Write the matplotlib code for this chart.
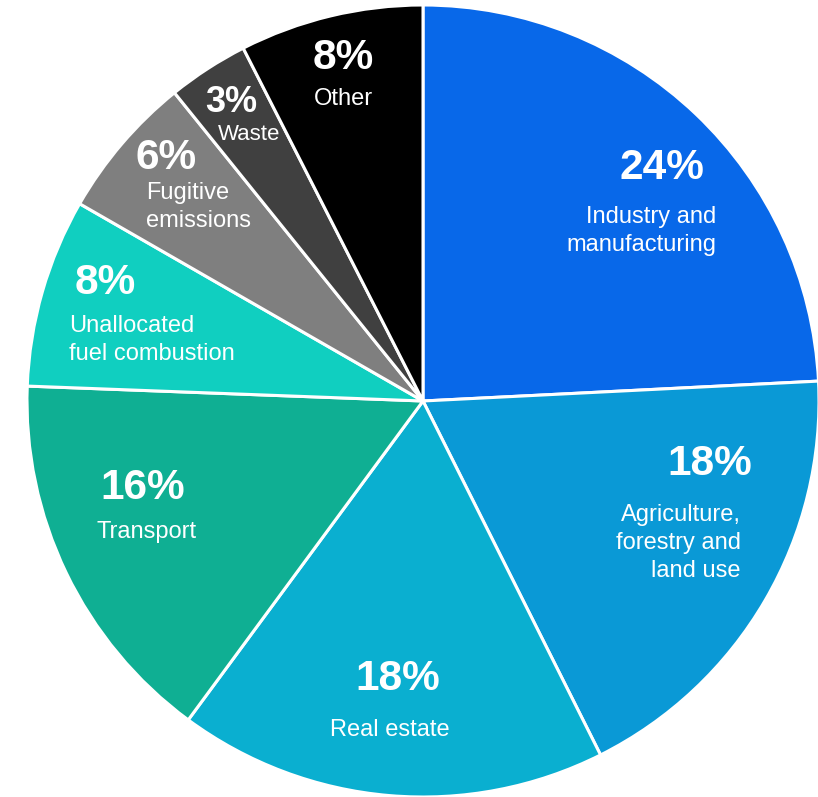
import matplotlib.pyplot as plt

plt.rcParams['font.family'] = ['Liberation Sans', 'DejaVu Sans']

# 数据：各行业排放占比（%），顺时针从正上方开始
sectors = ['Industry and\nmanufacturing', 'Agriculture,\nforestry and\nland use',
           'Real estate', 'Transport', 'Unallocated\nfuel combustion',
           'Fugitive\nemissions', 'Waste', 'Other']
shares = [24.2, 18.4, 17.5, 15.5, 7.7, 5.9, 3.3, 7.5]
pct_labels = ['24%', '18%', '18%', '16%', '8%', '6%', '3%', '8%']
colors = ['#0868E9', '#0A99D6', '#0AAFD0', '#0FAF93', '#10CFC0',
          '#7F7F7F', '#404040', '#000000']

# 标签位置（像素，图片坐标）与对齐方式
W, H = 818, 797
cx, cy, R = 423, 401, 396
pct_pos = [(662, 168), (710, 464), (398, 679), (143, 488), (105, 283),
           (166, 158), (231, 102), (343, 58)]
pct_size = [30.5, 30.5, 30.5, 30.5, 30.5, 30.5, 26, 30.5]
name_pos = [(716, 231, 'right'), (741, 543, 'right'), (390, 730, 'center'),
            (147, 532, 'center'), (69, 340, 'left'), (146, 207, 'left'),
            (249, 134, 'center'), (343, 99, 'center')]
name_size = [17, 17, 17, 17, 17, 17, 16, 17]


def to_data(px, py):
    return (px - cx) / R, (cy - py) / R


fig = plt.figure(figsize=(W / 100, H / 100), dpi=100)
ax = fig.add_axes([0, 0, 1, 1])
ax.pie(shares, colors=colors, startangle=90, counterclock=False, radius=1,
       wedgeprops=dict(edgecolor='white', linewidth=2.2))

for lab, (px, py), fs in zip(pct_labels, pct_pos, pct_size):
    x, y = to_data(px, py)
    ax.text(x, y, lab, ha='center', va='center', fontsize=fs,
            fontweight='bold', color='white')

for lab, (px, py, ha), fs in zip(sectors, name_pos, name_size):
    x, y = to_data(px, py)
    ax.text(x, y, lab, ha=ha, va='center', fontsize=fs, color='white',
            multialignment=ha, linespacing=1.38)

ax.set_aspect('auto')
ax.set_xlim(-cx / R, (W - cx) / R)
ax.set_ylim((cy - H) / R, cy / R)
ax.axis('off')
fig.savefig('out.png', dpi=100, facecolor='white')
